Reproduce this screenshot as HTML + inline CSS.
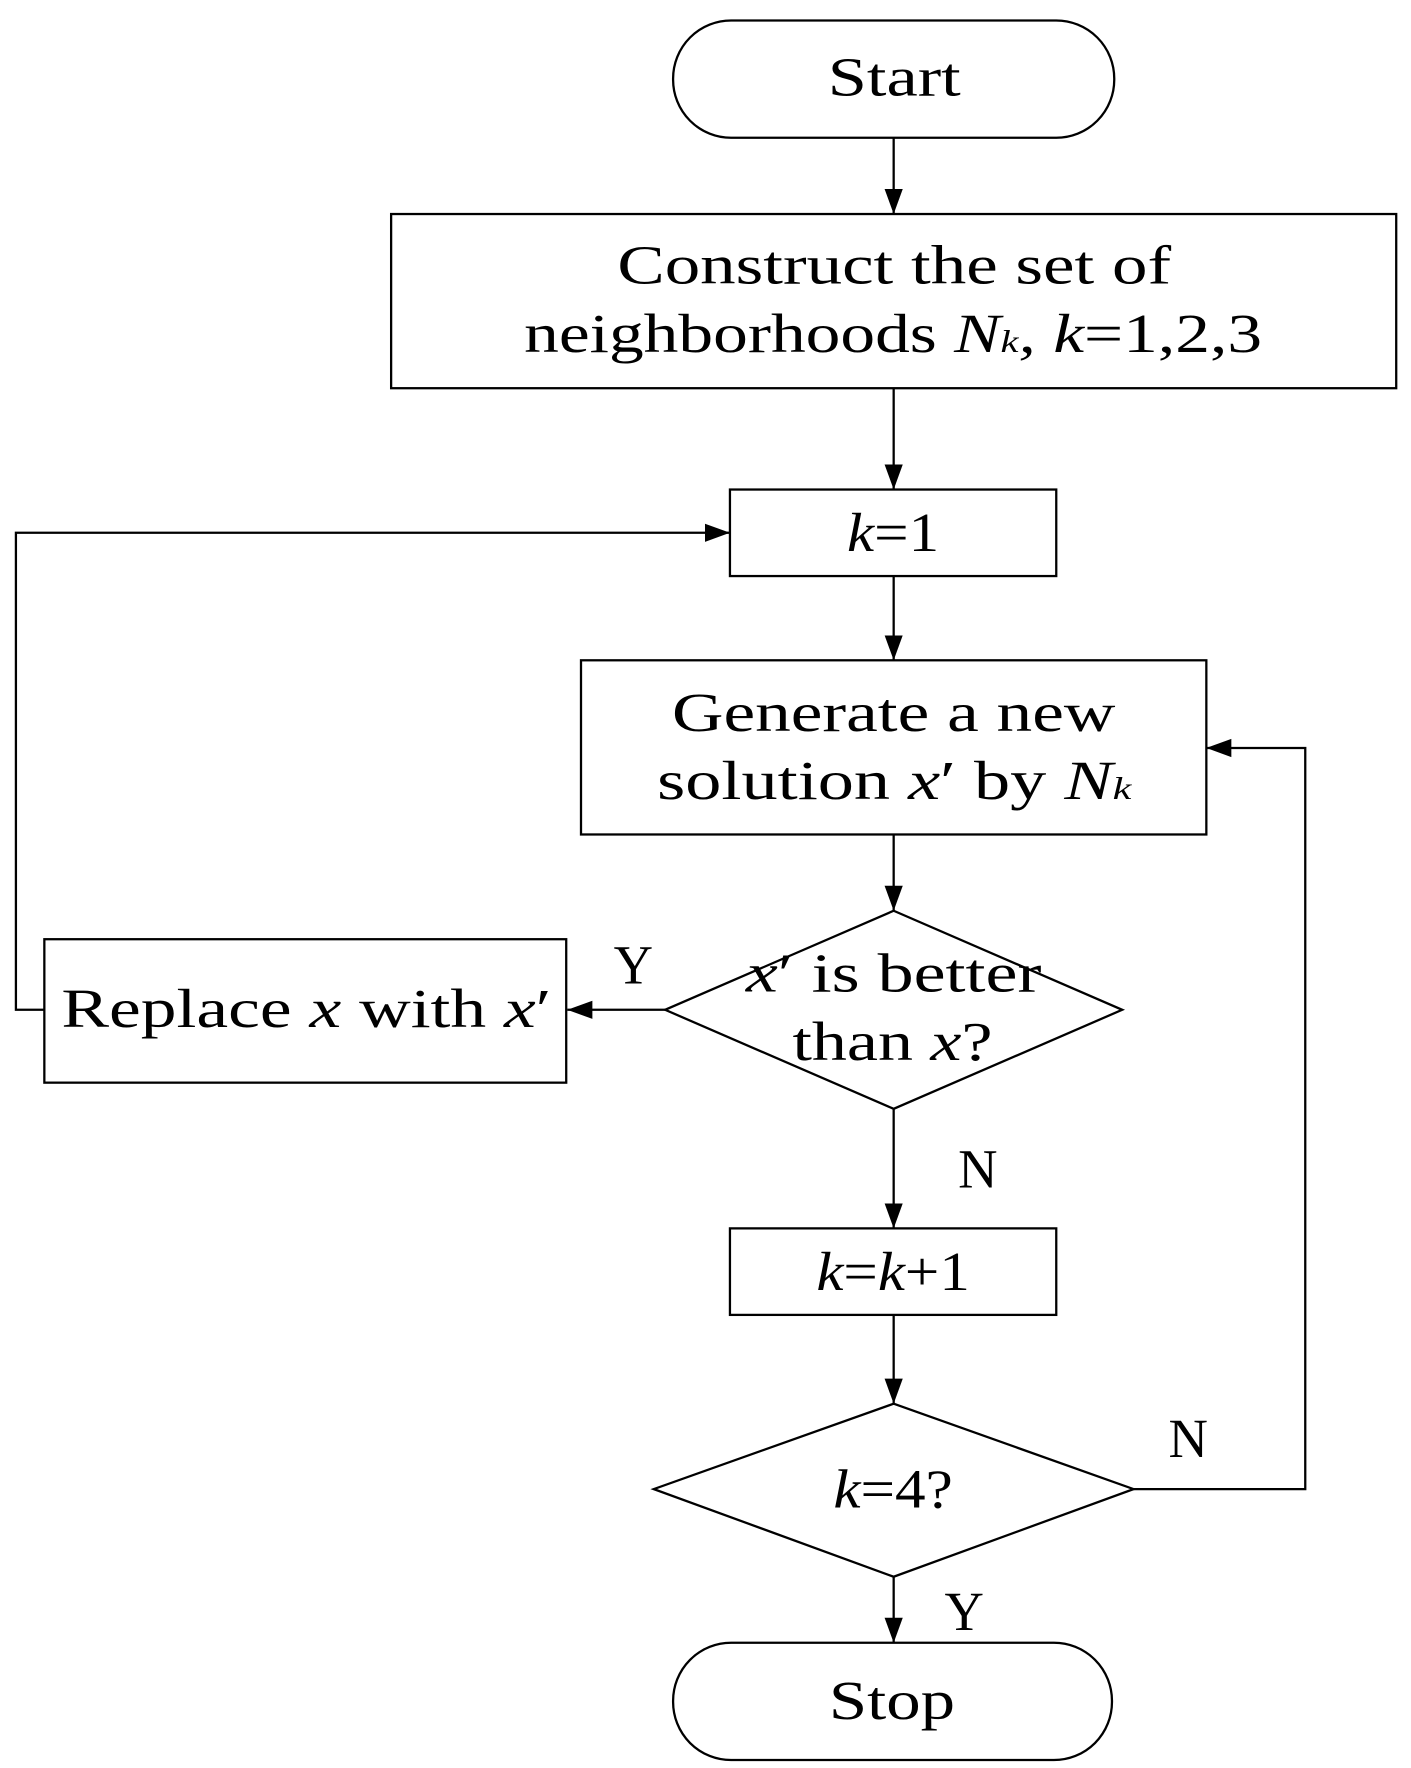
<!DOCTYPE html>
<html><head><meta charset="utf-8"><style>html,body{margin:0;padding:0;background:#fff}svg{display:block}</style></head>
<body>
<svg width="1411" height="1768" viewBox="0 0 1241 1553" preserveAspectRatio="none" xmlns="http://www.w3.org/2000/svg">
<defs><marker id="b" markerWidth="22" markerHeight="22" refX="22" refY="11" orient="auto" markerUnits="userSpaceOnUse" viewBox="0 0 22 22"><path d="M0,3 L22,11 L0,19z" fill="#000"/></marker></defs>
<g fill="none" stroke="#000" stroke-width="2">
<rect x="592" y="18" width="388" height="103" rx="51"/>
<rect x="344" y="188" width="884" height="153"/>
<rect x="642" y="430" width="287" height="76"/>
<rect x="511" y="580" width="550" height="153"/>
<polygon points="786,800 987,887 786,974 585,887"/>
<rect x="39" y="825" width="459" height="126"/>
<rect x="642" y="1079" width="287" height="76"/>
<polygon points="786,1233 997,1308 786,1385 575,1308"/>
<rect x="592" y="1443" width="386" height="103" rx="51"/>
<g marker-end="url(#b)">
<line x1="786" y1="121" x2="786" y2="188"/>
<line x1="786" y1="341" x2="786" y2="430"/>
<line x1="786" y1="506" x2="786" y2="580"/>
<line x1="786" y1="733" x2="786" y2="800"/>
<line x1="585" y1="887" x2="499" y2="887"/>
<polyline points="39,887 14,887 14,468 642,468"/>
<line x1="786" y1="974" x2="786" y2="1079"/>
<line x1="786" y1="1155" x2="786" y2="1233"/>
<polyline points="997,1308 1148,1308 1148,657 1061,657"/>
<line x1="786" y1="1385" x2="786" y2="1443"/>
</g></g>
<g font-family="Liberation Serif, serif" font-size="48" fill="#000" lengthAdjust="spacingAndGlyphs">
<text x="728" y="84" textLength="117" lengthAdjust="spacingAndGlyphs">Start</text>
<text x="543" y="249" textLength="487" lengthAdjust="spacingAndGlyphs">Construct the set of</text>
<text x="461" y="309" textLength="649" lengthAdjust="spacingAndGlyphs">neighborhoods <tspan font-style="italic">N<tspan font-size="28">k</tspan>, k</tspan>=1,2,3</text>
<text x="745" y="484" textLength="81" lengthAdjust="spacingAndGlyphs"><tspan font-style="italic">k</tspan>=1</text>
<text x="591" y="642" textLength="390" lengthAdjust="spacingAndGlyphs">Generate a new</text>
<text x="578" y="702" textLength="417" lengthAdjust="spacingAndGlyphs">solution <tspan font-style="italic">x</tspan>′ by <tspan font-style="italic">N<tspan font-size="28">k</tspan></tspan></text>
<text x="656" y="871" textLength="260" lengthAdjust="spacingAndGlyphs"><tspan font-style="italic">x</tspan>′ is better</text>
<text x="697" y="931" textLength="176" lengthAdjust="spacingAndGlyphs">than <tspan font-style="italic">x</tspan>?</text>
<text x="54" y="902" textLength="431" lengthAdjust="spacingAndGlyphs">Replace <tspan font-style="italic">x</tspan> with <tspan font-style="italic">x</tspan>′</text>
<text x="718" y="1133" textLength="135" lengthAdjust="spacingAndGlyphs"><tspan font-style="italic">k</tspan>=<tspan font-style="italic">k</tspan>+1</text>
<text x="733" y="1324" textLength="105" lengthAdjust="spacingAndGlyphs"><tspan font-style="italic">k</tspan>=4?</text>
<text x="729" y="1510" textLength="111" lengthAdjust="spacingAndGlyphs">Stop</text>
<text x="557" y="864" text-anchor="middle">Y</text>
<text x="860" y="1043" text-anchor="middle">N</text>
<text x="1045" y="1280" text-anchor="middle">N</text>
<text x="848" y="1432" text-anchor="middle">Y</text>
</g>
</svg>
</body></html>
